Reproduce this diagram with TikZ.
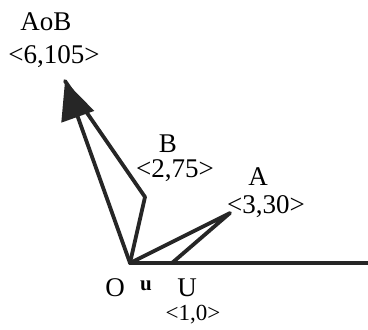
\documentclass[tikz,border=0pt]{standalone}
\usepackage{fontspec}
\setmainfont{Liberation Serif}
\usetikzlibrary{arrows.meta}

\begin{document}
\begin{tikzpicture}[
    x=1pt, y=-1pt,
    vec/.style={line width=3.8pt, draw=black!85, line join=round, line cap=round},
    head/.style={-{Triangle[length=38pt, width=34pt]}},
    lbl/.style={font=\fontsize{27}{29}\selectfont, inner sep=0pt, anchor=base},
    small/.style={font=\fontsize{21}{23}\selectfont\bfseries, inner sep=0pt, anchor=base}
]
    \useasboundingbox (0,0) rectangle (368,330);

    % Points
    \coordinate (O) at (130,263);
    \coordinate (U) at (172,263);
    \coordinate (A) at (230,213);
    \coordinate (B) at (145,197);
    \coordinate (AoB) at (65,81);
    \coordinate (xend) at (368,263);

    % Vectors
    \draw[vec] (O) -- (xend);
    \draw[vec] (O) -- (A) -- (U);
    \draw[vec] (O) -- (B) -- (AoB);
    \draw[vec, head, fill=black!85] (O) -- (AoB);

    % Labels
    \node[lbl] (aobname) at (46,30) {AoB};
    \node[lbl] (aobval) at (54,63) {<6,105>};
    \node[lbl] (bname) at (168,152) {B};
    \node[lbl] (bval) at (175,177) {<2,75>};
    \node[lbl] (aname) at (258,185) {A};
    \node[lbl] (aval) at (266,213) {<3,30>};
    \node[lbl] (oname) at (115,296) {O};
    \node[small] (uname) at (146,290) {u};
    \node[lbl] (Uname) at (187,296) {U};
    \node[lbl, font=\fontsize{23}{25}\selectfont] (Uval) at (193,320) {<1,0>};
\end{tikzpicture}
\end{document}
